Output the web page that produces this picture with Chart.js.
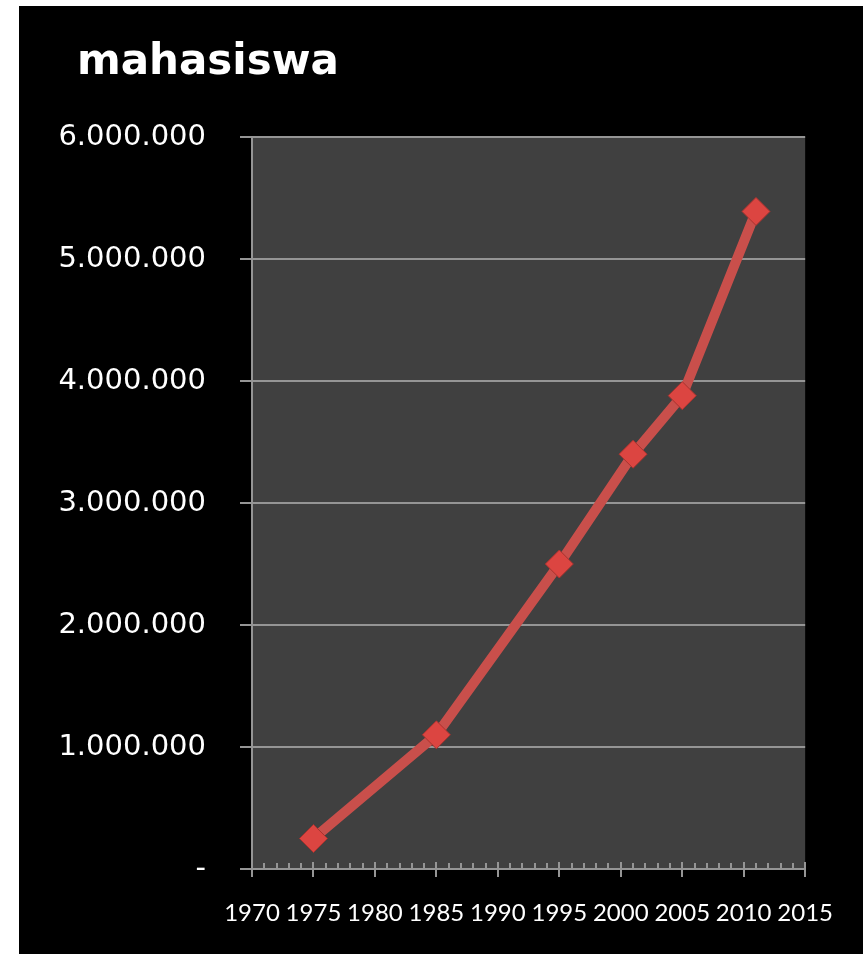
<!DOCTYPE html>
<html>
<head>
<meta charset="utf-8">
<title>mahasiswa</title>
<script src="https://cdn.jsdelivr.net/npm/chart.js@4.4.1/dist/chart.umd.min.js"></script>
<style>
  html, body { margin: 0; padding: 0; background: #fff; width: 863px; height: 954px; overflow: hidden; }
  #panel { position: absolute; left: 19px; top: 6px; width: 844px; height: 948px; background: #000; }
  canvas { display: block; }
</style>
</head>
<body>
<div id="panel"><canvas id="c" width="844" height="948"></canvas></div>
<script>
// Student counts by year
const years = [1975, 1985, 1995, 2001, 2005, 2011];
const students = [250000, 1100000, 2500000, 3400000, 3880000, 5390000];

// Axis ticks
const xTickYears = [1970, 1975, 1980, 1985, 1990, 1995, 2000, 2005, 2010, 2015];
const yTickValues = [0, 1000000, 2000000, 3000000, 4000000, 5000000, 6000000];
const yTickLabels = ['-', '1.000.000', '2.000.000', '3.000.000', '4.000.000', '5.000.000', '6.000.000'];

const titleText = 'mahasiswa';

const GRID = '#959595';

// Dark grey plot area
const plotBackdrop = {
  id: 'plotBackdrop',
  beforeDraw(chart) {
    const { ctx, chartArea: a } = chart;
    ctx.save();
    ctx.fillStyle = '#404040';
    ctx.fillRect(a.left, a.top, a.right - a.left, a.bottom - a.top);
    ctx.restore();
  }
};

// Yearly minor ticks and 5-year major ticks on the x axis
const yearTicks = {
  id: 'yearTicks',
  beforeDatasetsDraw(chart) {
    const { ctx, chartArea: a } = chart;
    const xs = chart.scales.x;
    ctx.save();
    ctx.strokeStyle = GRID;
    ctx.lineWidth = 2;
    ctx.beginPath();
    for (let yr = xs.min; yr <= xs.max; yr++) {
      const px = Math.round(xs.getPixelForValue(yr));
      const major = yr % 5 === 0;
      ctx.moveTo(px, a.bottom - (major ? 7 : 6));
      ctx.lineTo(px, a.bottom + (major ? 8 : 0));
    }
    ctx.stroke();
    ctx.restore();
  }
};

// Chart heading in the top-left corner
const panelTitle = {
  id: 'panelTitle',
  afterDraw(chart) {
    const { ctx } = chart;
    ctx.save();
    ctx.fillStyle = '#fff';
    ctx.font = 'bold 42px "DejaVu Sans"';
    ctx.textAlign = 'left';
    ctx.textBaseline = 'alphabetic';
    ctx.fillText(titleText, 58, 68);
    ctx.restore();
  }
};

new Chart(document.getElementById('c'), {
  type: 'line',
  data: {
    datasets: [{
      label: titleText,
      data: years.map((yr, i) => ({ x: yr, y: students[i] })),
      borderColor: '#c94f4b',
      borderWidth: 10,
      tension: 0,
      pointStyle: 'rectRot',
      pointRadius: 14,
      pointBackgroundColor: '#dc4541',
      pointBorderColor: '#a8332f',
      pointBorderWidth: 1
    }]
  },
  options: {
    responsive: false,
    animation: false,
    devicePixelRatio: 1,
    layout: { autoPadding: false, padding: { left: 0, top: 131, right: 55, bottom: 0 } },
    plugins: {
      legend: { display: false },
      tooltip: { enabled: false }
    },
    scales: {
      x: {
        type: 'linear',
        min: 1970,
        max: 2015,
        afterBuildTicks: s => { s.ticks = xTickYears.map(v => ({ value: v })); },
        afterFit: s => { s.height = 85; },
        ticks: {
          color: '#fff',
          font: { family: 'Lato', size: 24 },
          padding: 30,
          maxRotation: 0,
          autoSkip: false,
          callback: v => String(v)
        },
        grid: { drawOnChartArea: false, drawTicks: false },
        border: { display: true, color: GRID, width: 2 }
      },
      y: {
        min: 0,
        max: 6000000,
        afterBuildTicks: s => { s.ticks = yTickValues.map(v => ({ value: v })); },
        afterFit: s => { s.width = 233; },
        ticks: {
          color: '#fff',
          font: { family: 'DejaVu Sans', size: 29 },
          padding: 34,
          callback: (v, i) => yTickLabels[i]
        },
        grid: { color: GRID, lineWidth: 2, tickLength: 12, tickColor: GRID, drawTicks: true },
        border: { display: true, color: GRID, width: 2 }
      }
    }
  },
  plugins: [plotBackdrop, yearTicks, panelTitle]
});
</script>
</body>
</html>
